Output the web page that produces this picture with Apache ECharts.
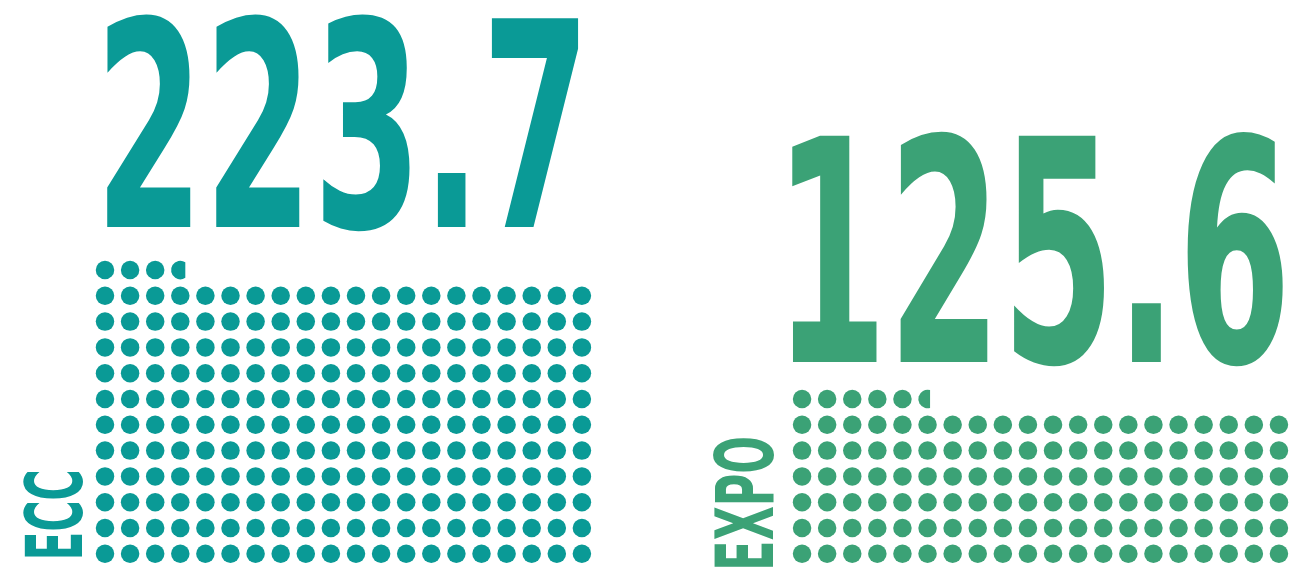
<!DOCTYPE html>
<html>
<head>
<meta charset="utf-8">
<script src="https://cdn.jsdelivr.net/npm/echarts@6/dist/echarts.min.js"></script>
<style>
html,body{margin:0;padding:0;background:#ffffff;}
#chart{width:1313px;height:568px;}
</style>
</head>
<body>
<div id="chart"></div>
<script>
// ---- data ----
const categories = ['ECC', 'EXPO'];
const values = [223.7, 125.6];
const colors = ['#0A9A96', '#3BA276'];
const perRow = 20;

// ---- layout (styling only) ----
const FONT = "'DejaVu Sans Condensed', 'DejaVu Sans', sans-serif";
const DOT_R = 9.25;
const COL_W = 25.1;
const ROW_H = 25.8;
const panels = [
  { left: 92.45, bottom: 568 - 566.7,
    numBox: { x0: 107, x1: 579, y0: 12.3, y1: 230 },
    labBox: { x0: 23.3, x1: 83.3, y0: 471.7, y1: 556.7 } },
  { left: 789.5, bottom: 568 - 566.7,
    numBox: { x0: 792, x1: 1283, y0: 129.3, y1: 365 },
    labBox: { x0: 713.3, x1: 774, y0: 438.3, y1: 566.7 } }
];

function dotsFor(v) {
  const full = Math.floor(v + 1e-9);
  const frac = Math.round((v - full) * 1000) / 1000;
  const out = [];
  for (let i = 0; i < full; i++) out.push([i % perRow, Math.floor(i / perRow), 1]);
  if (frac > 0) out.push([full % perRow, Math.floor(full / perRow), frac]);
  return out;
}

function renderDot(color) {
  return function (params, api) {
    const c = api.coord([api.value(0), api.value(1)]);
    const cell = api.size([1, 1]);
    const f = api.value(2);
    const r = DOT_R;
    const full = { type: 'circle', shape: { cx: c[0], cy: c[1], r: r }, style: { fill: color } };
    if (f >= 1) return full;
    const cut = c[0] - cell[0] / 2 + f * cell[0];
    const dx = cut - c[0];
    if (dx >= r) return full;
    if (dx <= -r) return null;
    const dy = Math.sqrt(r * r - dx * dx);
    const large = dx > 0 ? 1 : 0;
    return {
      type: 'path',
      shape: { pathData: 'M' + cut + ',' + (c[1] - dy) + 'A' + r + ',' + r + ',0,' + large + ',0,' + cut + ',' + (c[1] + dy) + 'Z' },
      style: { fill: color }
    };
  };
}

const mctx = document.createElement('canvas').getContext('2d');
function fitText(text, color, box, rotated) {
  const fs = 100;
  mctx.font = 'bold ' + fs + 'px ' + FONT;
  mctx.textBaseline = 'middle';
  mctx.textAlign = 'left';
  const m = mctx.measureText(text);
  const L = m.actualBoundingBoxLeft, R = m.actualBoundingBoxRight;
  const A = m.actualBoundingBoxAscent, D = m.actualBoundingBoxDescent;
  const bw = box.x1 - box.x0, bh = box.y1 - box.y0;
  let k, s, x, y, rot = 0;
  if (!rotated) {
    k = bh / (A + D);
    s = bw / ((L + R) * k);
    x = box.x0 + L * k * s;
    y = box.y0 + A * k;
  } else {
    k = bw / (A + D);
    s = bh / ((L + R) * k);
    x = box.x0 + A * k;
    y = box.y1 - L * k * s;
    rot = Math.PI / 2;
  }
  return {
    type: 'text', x: x, y: y, rotation: rot, scaleX: s, scaleY: 1, silent: true,
    style: {
      text: text, x: 0, y: 0, fill: color,
      fontFamily: FONT, fontWeight: 'bold', fontSize: fs * k,
      textAlign: 'left', textVerticalAlign: 'middle', verticalAlign: 'middle'
    }
  };
}

const grids = [], xAxes = [], yAxes = [], series = [], graphics = [];
values.forEach(function (v, i) {
  const rows = Math.ceil(v / perRow);
  const p = panels[i];
  grids.push({ left: p.left, bottom: p.bottom, width: perRow * COL_W, height: rows * ROW_H, containLabel: false });
  xAxes.push({ type: 'value', gridIndex: i, min: -0.5, max: perRow - 0.5, show: false });
  yAxes.push({ type: 'value', gridIndex: i, min: -0.5, max: rows - 0.5, show: false });
  series.push({
    type: 'custom', name: categories[i], xAxisIndex: i, yAxisIndex: i,
    data: dotsFor(v), renderItem: renderDot(colors[i]), clip: false, silent: true
  });
  graphics.push(fitText(v.toFixed(1), colors[i], p.numBox, false));
  graphics.push(fitText(categories[i], colors[i], p.labBox, true));
});

const chart = echarts.init(document.getElementById('chart'), null, { renderer: 'canvas' });
chart.setOption({
  animation: false,
  backgroundColor: '#ffffff',
  grid: grids,
  xAxis: xAxes,
  yAxis: yAxes,
  series: series,
  graphic: graphics
});
</script>
</body>
</html>
